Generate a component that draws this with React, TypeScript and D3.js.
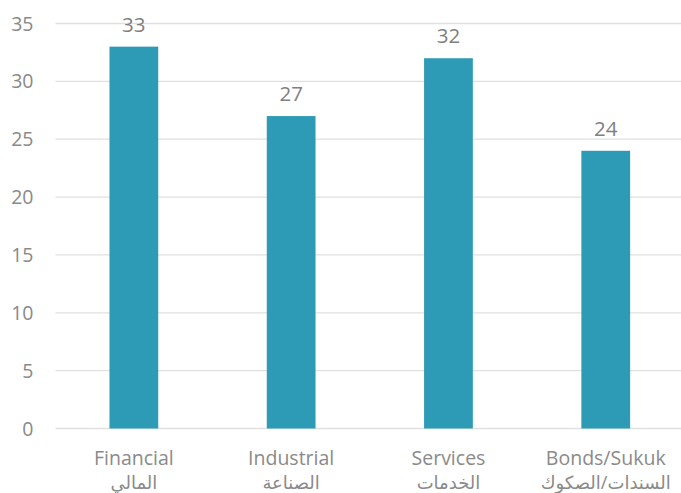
import React from "react";
import * as d3 from "d3";

const categoriesEn = ["Financial", "Industrial", "Services", "Bonds/Sukuk"];
const categoriesAr = ["المالي", "الصناعة", "الخدمات", "السندات/الصكوك"];
const values = [33, 27, 32, 24];
const yTicks = [0, 5, 10, 15, 20, 25, 30, 35];

export default function App() {
  const W = 681, H = 493;
  const x = d3.scaleBand<string>().domain(categoriesEn).range([55.2, 684.4]).paddingInner(0.69).paddingOuter(0.345);
  const y = d3.scaleLinear().domain([0, 35]).range([428.5, 23.5]);
  const font = "'Open Sans', 'DejaVu Sans', sans-serif";
  return (
    <svg width={W} height={H} style={{ position: "absolute", left: 0, top: 0 }}>
      {yTicks.map((t) => (
        <g key={t}>
          <line x1={55.5} x2={681} y1={y(t)} y2={y(t)} stroke="#e0e0e0" strokeWidth={1.3} />
          <text x={33.5} y={y(t)} dy="0.36em" textAnchor="end" fill="#8a8a8a" fontSize={19.5} fontFamily={font}>{t}</text>
        </g>
      ))}
      {categoriesEn.map((c, i) => (
        <g key={c}>
          <rect x={x(c)} y={y(values[i])} width={x.bandwidth()} height={y(0) - y(values[i])} fill="#2d9bb6" />
          <text x={(x(c) as number) + x.bandwidth() / 2} y={y(values[i]) - 15} textAnchor="middle" fill="#7f7f7f" fontSize={20.5} fontFamily={font}>{values[i]}</text>
          <text x={(x(c) as number) + x.bandwidth() / 2} y={465} textAnchor="middle" fill="#8a8a8a" fontSize={19.5} fontFamily={font}>{c}</text>
          <text x={(x(c) as number) + x.bandwidth() / 2} y={489} textAnchor="middle" fill="#8a8a8a" fontSize={18} fontFamily={font} direction="rtl">{categoriesAr[i]}</text>
        </g>
      ))}
    </svg>
  );
}
